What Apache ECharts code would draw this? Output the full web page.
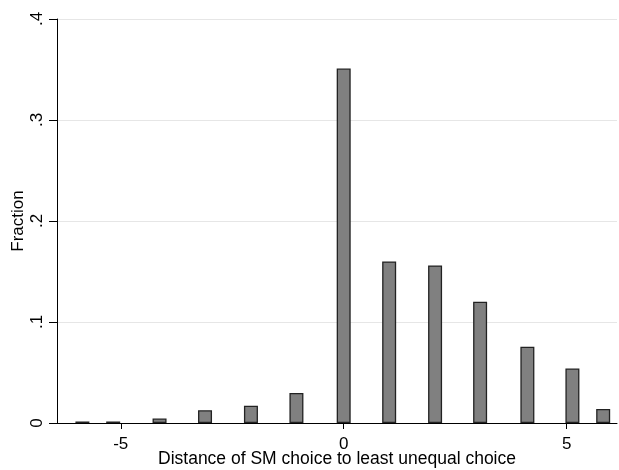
<!DOCTYPE html>
<html>
<head>
<meta charset="utf-8">
<script src="https://cdn.jsdelivr.net/npm/echarts@6/dist/echarts.min.js"></script>
<style>
  html, body { margin: 0; padding: 0; background: #fff; }
  #chart { width: 619px; height: 470px; }
</style>
</head>
<body>
<div id="chart"></div>
<script>
// bar positions (distance) and heights (fraction)
var distances = [-5.86, -5.17, -4.13, -3.11, -2.08, -1.06, 0, 1.02, 2.05, 3.06, 4.12, 5.13, 5.82];
var fractions = [0.0015, 0.0015, 0.0044, 0.0126, 0.0172, 0.0297, 0.351, 0.160, 0.156, 0.120, 0.0756, 0.054, 0.0139];
var xTicks = [-5, 0, 5];

var points = distances.map(function (d, i) { return [d, fractions[i]]; });

var chart = echarts.init(document.getElementById("chart"));
var font = "Liberation Sans, Arial, sans-serif";
var option = {
    animation: false,
    backgroundColor: "#fff",
    grid: { left: 57, right: 2, top: 19, bottom: 47, outerBoundsMode: "none", containLabel: false },
    xAxis: {
        type: "value",
        min: -6.43,
        max: 6.13,
        name: "Distance of SM choice to least unequal choice",
        nameLocation: "middle",
        nameGap: 27,
        nameMoveOverlap: false,
        nameTextStyle: { color: "#000", fontSize: 17.5, fontFamily: font },
        axisLine: { show: true, onZero: false, lineStyle: { color: "#000", width: 1 } },
        axisTick: { show: true, customValues: xTicks, length: 6, lineStyle: { color: "#000" } },
        axisLabel: { customValues: xTicks, color: "#000", fontSize: 17, fontFamily: font, margin: 13 },
        splitLine: { show: false }
    },
    yAxis: {
        type: "value",
        min: 0,
        max: 0.4,
        interval: 0.1,
        name: "Fraction",
        nameLocation: "middle",
        nameRotate: 90,
        nameGap: 30,
        nameMoveOverlap: false,
        nameTextStyle: { color: "#000", fontSize: 17, fontFamily: font },
        axisLine: { show: true, onZero: false, lineStyle: { color: "#000", width: 1 } },
        axisTick: { show: true, length: 8, lineStyle: { color: "#000" } },
        axisLabel: {
            rotate: 90,
            color: "#000",
            fontSize: 17,
            fontFamily: font,
            margin: 11,
            formatter: function (v) {
                return v === 0 ? "0" : String(Math.round(v * 10) / 10).replace(/^0/, "");
            }
        },
        splitLine: { show: true, lineStyle: { color: "#e6e6e6", width: 1 } }
    },
    series: [{
        type: "bar",
        data: points,
        barWidth: 14,
        itemStyle: { color: "#808080", borderColor: "#222", borderWidth: 1.3 }
    }]
};
chart.setOption(option);
</script>
</body>
</html>
